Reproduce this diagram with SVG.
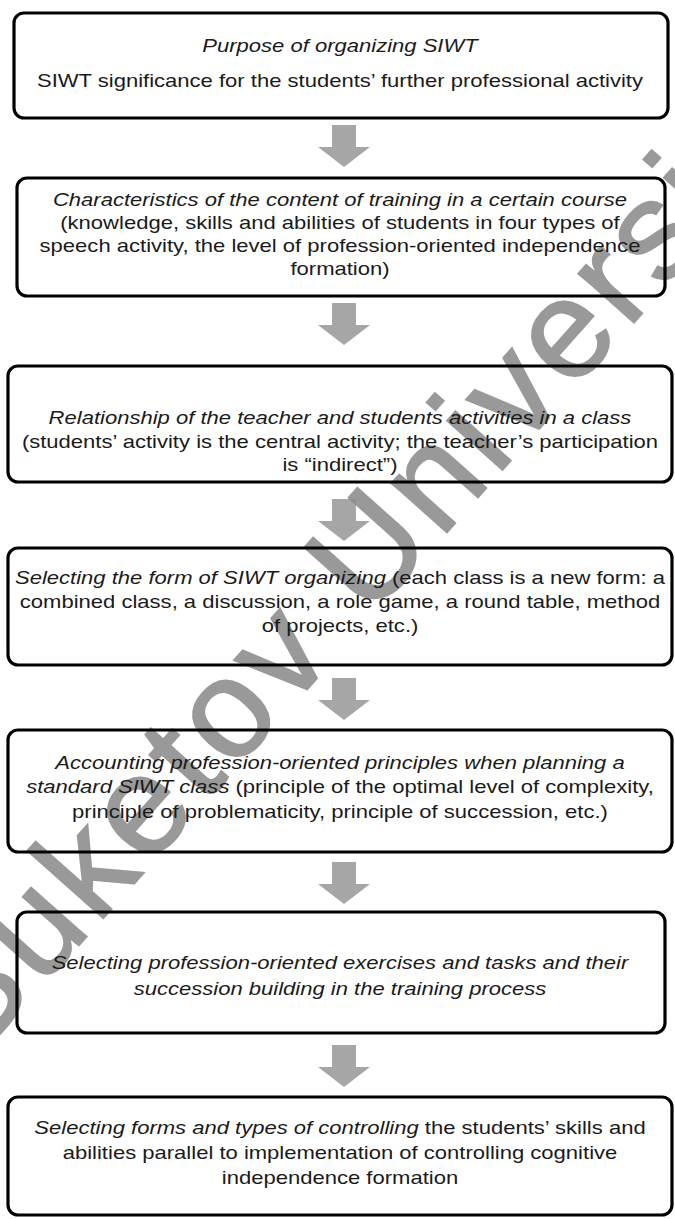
<svg xmlns="http://www.w3.org/2000/svg" width="675" height="1219" viewBox="0 0 675 1219">
<style>
.box{fill:none;stroke:#000;stroke-width:3.2}
.t{font-family:"Liberation Sans",Arial,sans-serif;font-size:19px;fill:#1a1a1a;text-anchor:middle}
.i{font-style:italic}
.arr{fill:#a6a6a6}
.wm{font-family:"Liberation Sans",Arial,sans-serif;font-size:140px;letter-spacing:6px;fill:#8c8c8c;stroke:#8c8c8c;stroke-width:2;opacity:0.88}
</style>
<defs>
<path id="arrow" d="M-12,0 H12 V22 H26 L0,42 L-26,22 H-12 Z"/>
</defs>
<rect width="675" height="1219" fill="#fff"/>
<g id="connectors" class="arr">
<use href="#arrow" x="344" y="125"/>
<use href="#arrow" x="344" y="303"/>
<use href="#arrow" x="344" y="499"/>
<use href="#arrow" x="344" y="678"/>
<use href="#arrow" x="344" y="862"/>
<use href="#arrow" x="344" y="1045"/>
</g>
<text class="wm" transform="translate(-25,1062) rotate(-48.3)">Buketov University</text>
<g id="node1">
<rect class="box" x="14" y="13" width="654" height="105" rx="10"/>
<g transform="matrix(1.16 0 0 1 -54.4 0)">
<text class="t i" x="340" y="52">Purpose of organizing SIWT</text>
<text class="t" x="340" y="87">SIWT significance for the students’ further professional activity</text>
</g>
</g>
<g id="node2">
<rect class="box" x="17" y="178" width="648" height="118" rx="10"/>
<g transform="matrix(1.16 0 0 1 -54.4 0)">
<text class="t i" x="340" y="206">Characteristics of the content of training in a certain course</text>
<text class="t" x="340" y="229">(knowledge, skills and abilities of students in four types of</text>
<text class="t" x="340" y="252">speech activity, the level of profession-oriented independence</text>
<text class="t" x="340" y="275">formation)</text>
</g>
</g>
<g id="node3">
<rect class="box" x="8" y="366" width="664" height="116" rx="10"/>
<g transform="matrix(1.16 0 0 1 -54.4 0)">
<text class="t i" x="340" y="424">Relationship of the teacher and students activities in a class</text>
<text class="t" x="340" y="448">(students’ activity is the central activity; the teacher’s participation</text>
<text class="t" x="340" y="471">is “indirect”)</text>
</g>
</g>
<g id="node4">
<rect class="box" x="8" y="548" width="664" height="117" rx="10"/>
<g transform="matrix(1.16 0 0 1 -54.4 0)">
<text class="t" x="340" y="584"><tspan class="i">Selecting the form of SIWT organizing</tspan> (each class is a new form: a</text>
<text class="t" x="340" y="608">combined class, a discussion, a role game, a round table, method</text>
<text class="t" x="340" y="632">of projects, etc.)</text>
</g>
</g>
<g id="node5">
<rect class="box" x="8" y="730" width="664" height="122" rx="10"/>
<g transform="matrix(1.16 0 0 1 -54.4 0)">
<text class="t i" x="340" y="769">Accounting profession-oriented principles when planning a</text>
<text class="t" x="340" y="793"><tspan class="i">standard SIWT class</tspan>  (principle of the optimal level of complexity,</text>
<text class="t" x="340" y="818">principle of problematicity, principle of succession, etc.)</text>
</g>
</g>
<g id="node6">
<rect class="box" x="17" y="912" width="648" height="121" rx="10"/>
<g transform="matrix(1.16 0 0 1 -54.4 0)">
<text class="t i" x="340" y="969">Selecting profession-oriented exercises and tasks and their</text>
<text class="t i" x="340" y="995">succession building in the training process</text>
</g>
</g>
<g id="node7">
<rect class="box" x="8" y="1097" width="664" height="118" rx="10"/>
<g transform="matrix(1.16 0 0 1 -54.4 0)">
<text class="t" x="340" y="1134"><tspan class="i">Selecting forms and types of controlling</tspan> the students’ skills and</text>
<text class="t" x="340" y="1159">abilities parallel to implementation of controlling cognitive</text>
<text class="t" x="340" y="1184">independence formation</text>
</g>
</g>
</svg>
